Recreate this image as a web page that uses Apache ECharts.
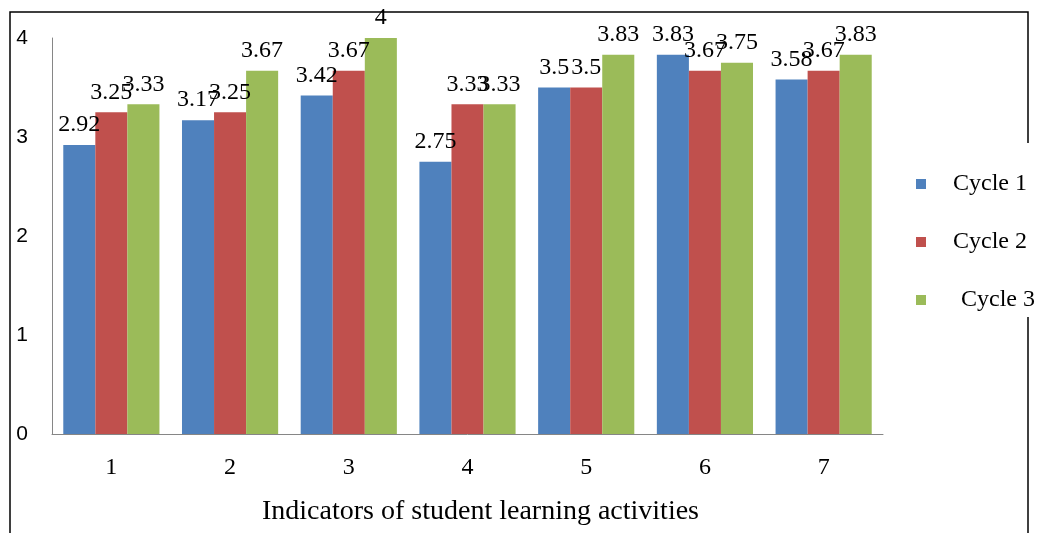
<!DOCTYPE html>
<html><head><meta charset="utf-8">
<script src="https://cdn.jsdelivr.net/npm/echarts@6/dist/echarts.min.js"></script>
<style>html,body{margin:0;padding:0;background:#fff}#c{width:1039px;height:533px}</style>
</head><body><div id="c"></div>
<script>
const categories = ['1','2','3','4','5','6','7'];
const cycle1 = [2.92, 3.17, 3.42, 2.75, 3.5, 3.83, 3.58];
const cycle2 = [3.25, 3.25, 3.67, 3.33, 3.5, 3.67, 3.67];
const cycle3 = [3.33, 3.67, 4, 3.33, 3.83, 3.75, 3.83];
const yTicks = [0, 1, 2, 3, 4];
const seriesNames = ['Cycle 1', 'Cycle 2', 'Cycle 3'];
const colors = ['#4F81BD', '#C0504D', '#9BBB59'];

const chart = echarts.init(document.getElementById('c'), null, {renderer: 'canvas'});
const lbl = {show: true, position: 'top', distance: 8, color: '#000', fontFamily: 'Liberation Serif', fontSize: 24};
chart.setOption({
  animation: false,
  backgroundColor: '#fff',
  grid: {left: 52, right: 156, top: 38, bottom: 99, containLabel: false, outerBoundsMode: 'none'},
  legend: {
    orient: 'vertical', left: 911, top: 167, itemWidth: 10, itemHeight: 10, itemGap: 34,
    icon: 'rect',
    textStyle: {fontFamily: 'Liberation Serif', fontSize: 24, color: '#000', padding: [0, 0, 0, 22]},
    data: [
      {name: seriesNames[0]},
      {name: seriesNames[1]},
      {name: seriesNames[2], textStyle: {padding: [0, 0, 0, 30]}}
    ]
  },
  xAxis: {
    type: 'category', data: categories,
    axisLine: {lineStyle: {color: '#868686', width: 1}},
    axisTick: {show: false},
    axisLabel: {fontFamily: 'Liberation Serif', fontSize: 24, color: '#000', margin: 22},
    name: 'Indicators of student learning activities', nameLocation: 'middle', nameGap: 64,
    nameTextStyle: {fontFamily: 'Liberation Serif', fontSize: 28, color: '#000', padding: [0, 0, 0, 26]}
  },
  yAxis: {
    type: 'value', min: yTicks[0], max: yTicks[yTicks.length - 1], interval: 1,
    axisLine: {show: true, lineStyle: {color: '#868686', width: 1}},
    axisTick: {show: false},
    splitLine: {show: false},
    axisLabel: {fontFamily: 'Liberation Sans', fontSize: 21, color: '#000', margin: 24}
  },
  series: [cycle1, cycle2, cycle3].map((d, i) => ({
    type: 'bar', name: seriesNames[i], data: d,
    itemStyle: {color: colors[i]},
    barGap: '0%', barCategoryGap: '19%',
    label: lbl
  })),
  graphic: [
    {type: 'polyline', shape: {points: [[10, 540], [10, 12], [1028, 12], [1028, 143]]}, style: {stroke: '#000', lineWidth: 1.5, fill: null}},
    {type: 'line', shape: {x1: 1028, y1: 317, x2: 1028, y2: 540}, style: {stroke: '#000', lineWidth: 1.5}}
  ]
});
</script></body></html>
